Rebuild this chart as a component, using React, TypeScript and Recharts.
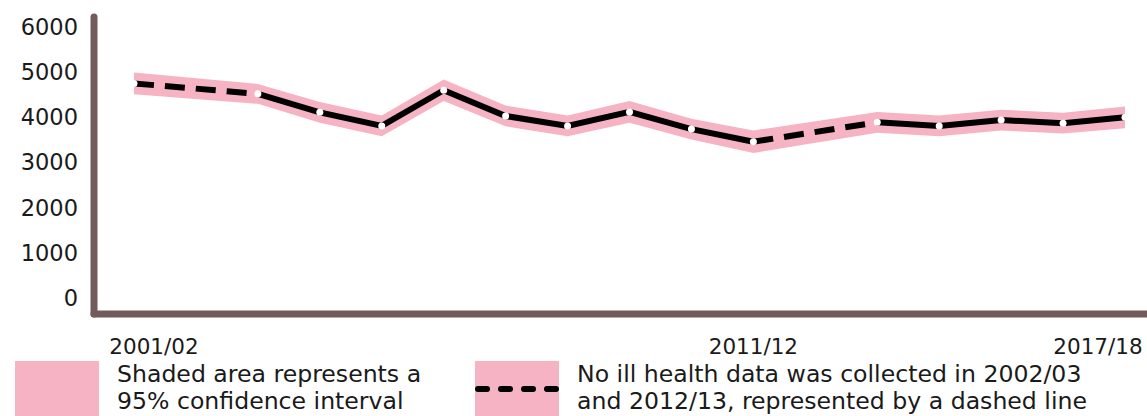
import { Area, ComposedChart, Line, XAxis, YAxis } from "recharts";

const PINK = "#f5b3c4";
const AXIS = "#725b5a";
const FONT = "'DejaVu Sans', sans-serif";

// financial years, rate per 100,000 workers (null = not collected)
const years = [
  "2001/02", "2002/03", "2003/04", "2004/05", "2005/06", "2006/07", "2007/08", "2008/09", "2009/10",
  "2010/11", "2011/12", "2012/13", "2013/14", "2014/15", "2015/16", "2016/17", "2017/18",
];
const rate = [4750, null, 4520, 4110, 3810, 4600, 4030, 3810, 4120, 3740, 3460, null, 3890, 3810, 3940, 3870, 4000];
const lower = [4510, null, 4300, 3880, 3580, 4360, 3800, 3580, 3880, 3510, 3210, null, 3660, 3580, 3710, 3640, 3760];
const upper = [4990, null, 4740, 4340, 4040, 4840, 4260, 4040, 4360, 3970, 3710, null, 4120, 4040, 4170, 4100, 4240];
const yTicks = [0, 1000, 2000, 3000, 4000, 5000, 6000];
const xTicks = ["2001/02", "2011/12", "2017/18"];

const rows = years.map((label, i) => ({ x: i, label, rate: rate[i], ci: rate[i] == null ? null : [lower[i], upper[i]] }));
const observed = rows.filter((r) => r.rate != null);

// dashed bridge across each missing year
const gaps: any[] = [];
rows.forEach((r, i) => {
  if (r.rate == null) {
    if (gaps.length) gaps.push({ x: i - 1.5, rate: null });
    gaps.push(rows[i - 1], rows[i + 1]);
  }
});

function XTick({ x, y, payload }: any) {
  const label = years[payload.value];
  const shift = label === "2001/02" ? 20 : label === "2017/18" ? -27 : 0;
  return (
    <text x={x + shift} y={y + 32} textAnchor="middle" fontSize={21.5} fill="#1a1a1a" fontFamily={FONT}>
      {label}
    </text>
  );
}

function LegendItem({ left, dashed, lines }: { left: number; dashed?: boolean; lines: string[] }) {
  return (
    <>
      <div style={{ position: "absolute", left, top: 361, width: 84, height: 60, background: PINK }}>
        {dashed && (
          <svg width={84} height={60} style={{ position: "absolute", left: 0, top: 0 }}>
            <line x1={3} y1={28} x2={81} y2={28} stroke="#000" strokeWidth={6} strokeLinecap="round" strokeDasharray="9 14" />
          </svg>
        )}
      </div>
      <div style={{ position: "absolute", left: left + 102, top: 361, fontSize: 23.6, lineHeight: "27px", color: "#1a1a1a", whiteSpace: "nowrap" }}>
        {lines.map((l) => (
          <div key={l}>{l}</div>
        ))}
      </div>
    </>
  );
}

export default function App() {
  return (
    <div style={{ position: "absolute", left: 0, top: 0, width: 1147, height: 416, overflow: "hidden", background: "#fff", fontFamily: FONT }}>
      <ComposedChart width={1147} height={416} data={rows} margin={{ top: 17, right: 0, bottom: 62, left: 0 }}>
        <XAxis
          dataKey="x"
          type="number"
          domain={[0, years.length - 1]}
          ticks={xTicks.map((t) => years.indexOf(t))}
          interval={0}
          padding={{ left: 40, right: 22 }}
          height={40}
          tickLine={false}
          axisLine={{ stroke: AXIS, strokeWidth: 7, strokeLinecap: "round" }}
          tick={<XTick />}
        />
        <YAxis
          type="number"
          domain={[-354, 6221]}
          ticks={yTicks}
          interval={0}
          width={94}
          tickLine={false}
          tickMargin={10}
          axisLine={{ stroke: AXIS, strokeWidth: 7, strokeLinecap: "round" }}
          tick={{ fontSize: 22.5, fill: "#1a1a1a", fontFamily: FONT }}
        />
        <Area data={observed} dataKey="ci" type="linear" stroke="none" fill={PINK} fillOpacity={1} isAnimationActive={false} />
        <Line data={gaps} dataKey="rate" type="linear" stroke="#000" strokeWidth={6} strokeDasharray="20 11" dot={false} isAnimationActive={false} />
        <Line
          dataKey="rate"
          type="linear"
          stroke="#000"
          strokeWidth={6}
          dot={{ r: 3.5, fill: "#fff", stroke: "none" }}
          activeDot={false}
          isAnimationActive={false}
        />
      </ComposedChart>
      <LegendItem left={15} lines={["Shaded area represents a", "95% confidence interval"]} />
      <LegendItem left={475} dashed lines={["No ill health data was collected in 2002/03", "and 2012/13, represented by a dashed line"]} />
    </div>
  );
}
